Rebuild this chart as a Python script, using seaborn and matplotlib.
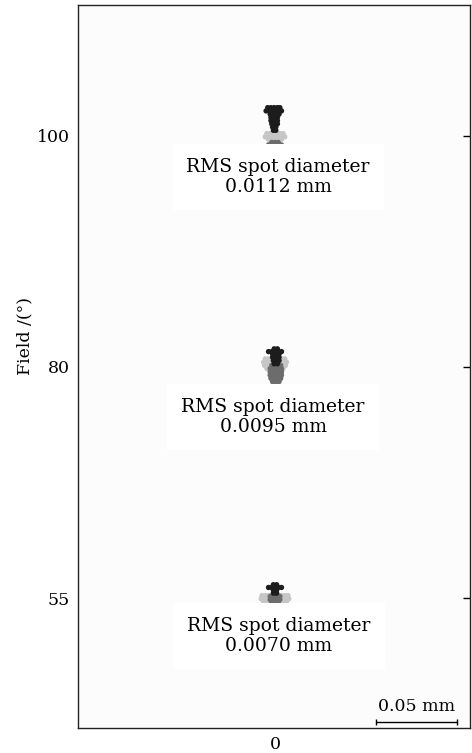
import matplotlib
matplotlib.use("Agg")
import matplotlib.pyplot as plt
import pandas as pd
import seaborn as sns

# ---- data ----
fields = ["100", "80", "55"]            # field angle (deg)
rms_text = ["0.0112 mm", "0.0095 mm", "0.0070 mm"]
scale_bar_mm = 0.05

# ray hits, offsets in micrometres: (dy, [dx, ...]) rows
f100_light = [(1.5, [-5, -3, -1, 1, 3, 5]),
              (-0.5, [-6, -4, -2, 0, 2, 4, 6]),
              (-2.0, [-4, -2, 0, 2, 4])]
f100_mid = [(-4.0, [-2, 0, 2]),
            (-5.5, [-4, -2, 0, 2, 4]),
            (-7.0, [-4.5, -2.5, 2.5, 4.5]),
            (-8.5, [-4.5, 4.5])]
f100_dark = [(17.5, [-4.5, -2.5, -0.5, 1.5, 3.0]),
             (15.5, [-5.5, -3.5, -1.5, 0.5, 2.5, 4.0]),
             (13.5, [-3, -1, 1, 2.5]),
             (11.5, [-2.5, -0.5, 1.5]),
             (9.5, [-2.5, -0.5, 1.5]),
             (7.5, [-2, 0, 1.5]),
             (5.5, [-1.5, 0.5]),
             (3.5, [-1, 0.5])]

f80_light = [(5, [-6, -4, 4, 6]),
             (3, [-7, -5, -3, 3, 5, 7]),
             (1, [-6.5, -4.5, 4.5, 6.5]),
             (-1, [-5, 5])]
f80_mid = [(1, [-2, 0, 2, 3.5]),
           (-1, [-3, -1, 1, 3, 4]),
           (-3, [-3, -1, 1, 3, 4]),
           (-5, [-3, -1, 1, 3, 4]),
           (-7, [-2.5, -0.5, 1.5, 3.5]),
           (-9, [-1.5, 0.5, 2.5])]
f80_dark = [(11.2, [-0.5, 1.5]),
            (9.5, [-4, -2, 0, 2, 4]),
            (8, [-1.5, 0.5, 2.5]),
            (6, [-1.5, 0.5, 2.5]),
            (4, [-1, 1, 2.5]),
            (2, [-0.5, 1.5])]

f55_light = [(1.5, [-8, -6, -4, -2, 0, 2, 4, 6, 8]),
             (-0.5, [-8.5, -6.5, -4.5, -2, 0, 2, 4.5, 6.5, 8.5]),
             (-2.5, [-7, -5, -3, 0, 3, 5, 7]),
             (-4.0, [-4.5, -2, 0, 2, 4.5])]
f55_mid = [(1, [-3, -1, 1, 3]),
           (-1, [-3, -1, 1, 3]),
           (-3, [-2, 0, 2])]
f55_dark = [(8.2, [-1, 1]),
            (6.5, [-4, -2, 0, 2, 4]),
            (4.8, [-1, 1]),
            (3.0, [-1, 1])]

spots = [(f100_light, f100_mid, f100_dark),
         (f80_light, f80_mid, f80_dark),
         (f55_light, f55_mid, f55_dark)]
groups = ["light", "mid", "dark"]
colors = {"light": "#c6c6c6", "mid": "#6c6c6c", "dark": "#1c1c1c"}

# ---- layout ----
spacing = 0.1426                         # mm between field centres
centres = [spacing * (1 - i) for i in range(len(fields))]
label_dx = [0.0019, -0.0012, 0.0025]
label_dy = [0.0253, 0.0309, 0.0235]

rows = []
for i, sets in enumerate(spots):
    for g, pts in zip(groups, sets):
        for dy, dxs in pts:
            for dx in dxs:
                rows.append({"x": dx / 1000, "y": centres[i] + dy / 1000, "g": g})
df = pd.DataFrame(rows)

sns.set_theme(style="white")
plt.rcParams["font.family"] = ["DejaVu Serif"]
plt.rcParams["text.color"] = "black"

fig = plt.figure(figsize=(4.72, 7.53), dpi=100)
ax = fig.add_axes([78 / 472, 25 / 753, 392 / 472, 723 / 753])
ax.set_facecolor("#fcfcfc")

sns.scatterplot(data=df, x="x", y="y", hue="g", palette=colors, s=15,
                linewidth=0, legend=False, ax=ax)

for i, c in enumerate(centres):
    ax.text(label_dx[i], c - label_dy[i], "RMS spot diameter\n" + rms_text[i],
            ha="center", va="center", fontsize=13.5, linespacing=1.1,
            color="black",
            bbox=dict(facecolor="white", edgecolor="none", pad=10))

# scale bar
x0 = 0.0623
yb = centres[-1] - 0.0765
ax.plot([x0, x0 + scale_bar_mm], [yb, yb], color="black", lw=1,
        marker="|", ms=5, mew=1)
ax.text(x0 + scale_bar_mm / 2, yb + 0.0045, "0.05 mm", ha="center",
        va="bottom", fontsize=12.5, color="black")

ax.set_xlim(-197 / 1620, 195 / 1620)
ax.set_ylim(centres[-1] - 130 / 1620, centres[0] + 131 / 1620)
ax.set_xticks([0])
ax.set_xticklabels(["0"])
ax.set_yticks(centres)
ax.set_yticklabels(fields)
ax.set_xlabel("")
ax.set_ylabel("Field /(°)", fontsize=12.5, color="black")
ax.yaxis.set_label_coords(-0.115, 0.542)
ax.tick_params(direction="in", length=5, width=1, right=True, top=False,
               labelsize=12.5, colors="black", pad=6)
for sp in ax.spines.values():
    sp.set_color("#222222")
    sp.set_linewidth(1)

fig.savefig("out.png", dpi=100, facecolor="white")
